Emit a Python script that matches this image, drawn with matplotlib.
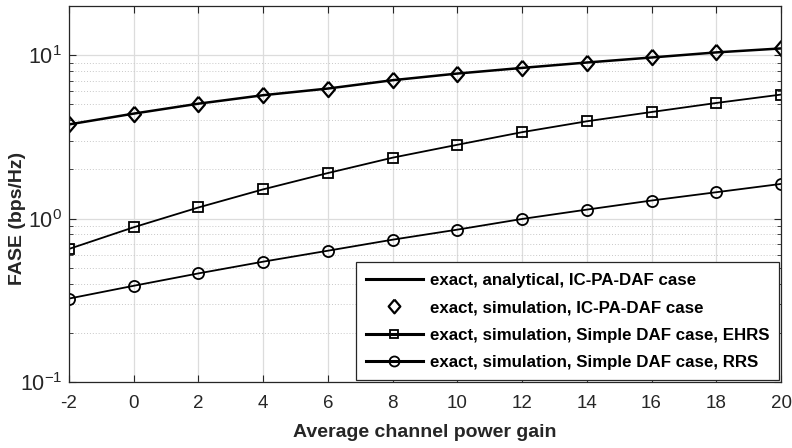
import matplotlib
matplotlib.use('Agg')
import matplotlib.pyplot as plt
from matplotlib.ticker import LogLocator, NullFormatter, FixedLocator, FixedFormatter

plt.rcParams['font.family'] = ['Liberation Sans', 'DejaVu Sans']
plt.rcParams['mathtext.fontset'] = 'custom'
plt.rcParams['mathtext.rm'] = 'Liberation Sans'
plt.rcParams['mathtext.it'] = 'Liberation Sans:italic'
plt.rcParams['mathtext.bf'] = 'Liberation Sans:bold'

gain = [-2, 0, 2, 4, 6, 8, 10, 12, 14, 16, 18, 20]
icpa = [3.77, 4.39, 5.05, 5.69, 6.25, 7.03, 7.72, 8.36, 9.02, 9.68, 10.4, 11.0]
ehrs = [0.652, 0.885, 1.17, 1.51, 1.90, 2.36, 2.83, 3.38, 3.94, 4.49, 5.10, 5.74]
rrs = [0.324, 0.388, 0.462, 0.545, 0.636, 0.743, 0.856, 0.995, 1.135, 1.29, 1.45, 1.63]

ytick_vals = [0.1, 1, 10]
ytick_labels = ['$\\mathregular{10^{-1}}$', '$\\mathregular{10^{0}}$', '$\\mathregular{10^{1}}$']

labels = ['exact, analytical, IC-PA-DAF case',
          'exact, simulation, IC-PA-DAF case',
          'exact, simulation, Simple DAF case, EHRS',
          'exact, simulation, Simple DAF case, RRS']

diamond = [(0, 1), (0.85, 0), (0, -1), (-0.85, 0), (0, 1)]

fig = plt.figure(figsize=(7.92, 4.48), dpi=100)
ax = fig.add_axes([69 / 792, 1 - 382 / 448, 712 / 792, 376 / 448])

ax.plot(gain, icpa, 'k-', lw=1.8, label=labels[0])
ax.plot(gain, icpa, ls='none', marker=diamond, color='k', ms=11, mfc='none', mew=1.6, label=labels[1])
ax.plot(gain, ehrs, 'k-s', lw=1.3, ms=7, mfc='none', mew=1.3, label=labels[2])
ax.plot(gain, rrs, 'k-o', lw=1.3, ms=8, mfc='none', mew=1.3, label=labels[3])

ax.set_yscale('log')
ax.set_xlim(-2, 20)
ax.set_ylim(0.1, 20)
ax.set_xticks(gain)
ax.set_xticklabels([str(g) for g in gain])
ax.yaxis.set_major_locator(FixedLocator(ytick_vals))
ax.yaxis.set_major_formatter(FixedFormatter(ytick_labels))
ax.yaxis.set_minor_locator(LogLocator(base=10, subs=range(2, 10), numticks=20))
ax.yaxis.set_minor_formatter(NullFormatter())

ax.grid(True, which='major', color='#dcdcdc', lw=0.9)
ax.grid(True, which='minor', axis='y', color='#c8c8c8', lw=0.7, ls=(0, (1, 2)))
ax.set_axisbelow(True)

ax.tick_params(which='both', direction='in', top=True, right=True, colors='#262626',
               labelsize=13.5, length=5)
ax.tick_params(axis='x', pad=9)
ax.tick_params(axis='y', pad=5, labelsize=15.5)
ax.tick_params(which='minor', length=3)
for s in ax.spines.values():
    s.set_color('#262626')
    s.set_linewidth(0.9)

ax.set_xlabel('Average channel power gain', fontsize=14, fontweight='bold', color='#262626', labelpad=9)
ax.set_ylabel('FASE (bps/Hz)', fontsize=14, fontweight='bold', color='#262626')
ax.yaxis.set_label_coords(-0.061, 0.436)

leg = ax.legend(loc='lower right', prop={'weight': 'bold', 'size': 12.2},
                fancybox=False, edgecolor='#262626', framealpha=1,
                borderaxespad=0.1, handlelength=3.35, handletextpad=0.4,
                labelspacing=0.74, borderpad=0.6)
leg.get_frame().set_linewidth(0.9)
for h in leg.get_lines():
    h.set_linewidth(2.2)
    h.set_markersize(h.get_markersize() * 0.9)

fig.savefig('out.png', dpi=100)
